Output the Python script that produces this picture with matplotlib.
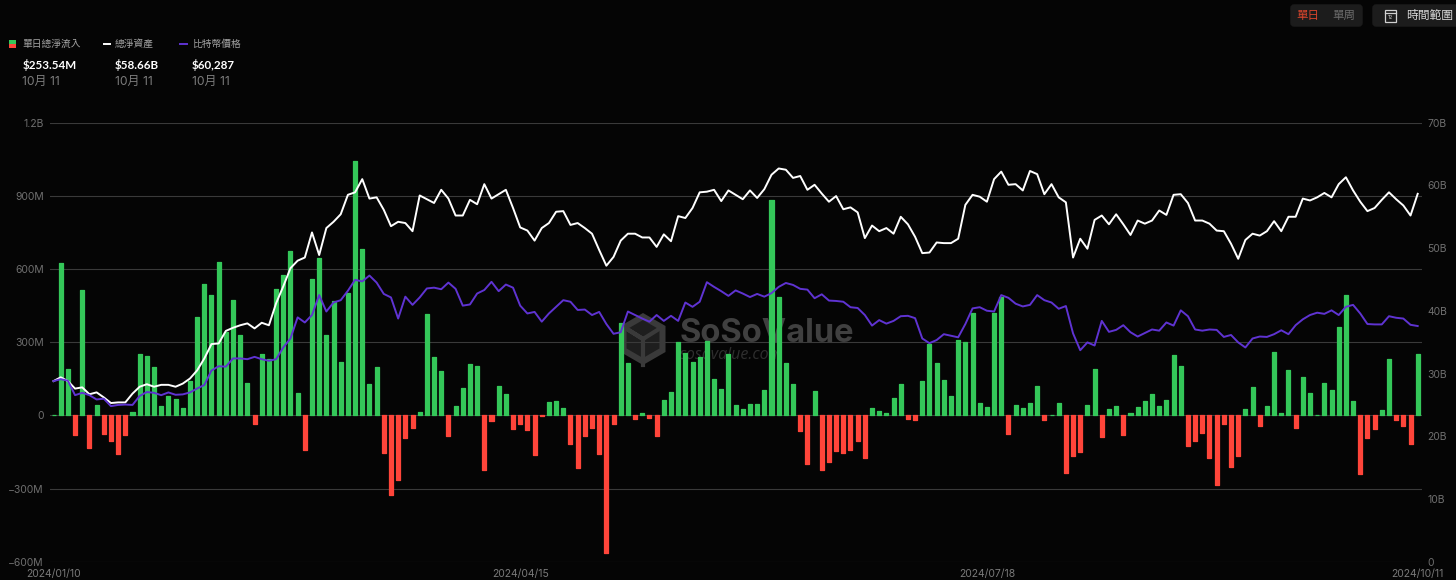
import numpy as np
import matplotlib
matplotlib.use('Agg')
import matplotlib.pyplot as plt
from matplotlib.patches import FancyBboxPatch, RegularPolygon, Rectangle

plt.rcParams['font.family'] = ['Inter', 'Noto Sans CJK TC', 'DejaVu Sans']

# 單日總淨流入 (百萬美元), first day has no flow
net_flow = [0, 625, 189, -81, 514, -134, 41, -77, -105, -159,
            -79, 14, 253, 245, 197, 37, 79, 66, 31, 142,
            402, 539, 492, 629, 340, 475, 330, 134, -36, 250,
            231, 518, 575, 672, 90, -141, 561, 647, 331, 470,
            220, 500, 1044, 681, 130, 197, -153, -327, -263, -94,
            -53, 15, 416, 241, 181, -86, 38, 112, 212, 201,
            -224, -22, 120, 89, -56, -37, -59, -164, -4, 56,
            59, 30, -119, -217, -83, -53, -160, -564, -34, 378,
            215, -16, 10, -12, -85, 64, 97, 301, 256, 220,
            239, 305, 150, 107, 250, 44, 26, 47, 47, 104,
            885, 486, 215, 127, -64, -200, 98, -226, -190, -146,
            -153, -140, -105, -175, 29, 18, 10, 71, 127, -14,
            -20, 141, 293, 215, 145, 78, 308, 300, 421, 52,
            36, 421, 484, -78, 42, 29, 49, 122, -19, 0,
            49, -235, -168, -149, 42, 190, -89, 25, 37, -81,
            10, 34, 59, 86, 37, 64, 249, 201, -126, -105,
            -73, -175, -287, -37, -211, -168, 27, 115, -44, 37,
            260, 11, 185, -53, 156, 90, 3, 133, 104, 363,
            492, 59, -241, -92, -55, 23, 233, -19, -42, -119,
            253.54]

# 總淨資產 (十億美元)
net_assets = [28.8, 29.4, 28.8, 27.6, 27.8, 26.7, 27.0, 26.2, 25.3, 25.4,
              25.4, 26.8, 27.9, 28.3, 27.9, 28.2, 28.2, 27.9, 28.4, 29.2,
              30.5, 32.4, 34.7, 34.8, 36.8, 37.3, 37.7, 38.0, 37.2, 38.1,
              37.7, 41.2, 43.9, 46.8, 48.0, 48.5, 52.5, 48.9, 53.2, 54.2,
              55.4, 58.5, 58.9, 61.0, 57.9, 58.1, 56.1, 53.5, 54.2, 54.0,
              52.7, 58.4, 57.8, 57.2, 59.3, 57.9, 55.2, 55.2, 57.7, 57.0,
              60.2, 57.9, 58.6, 59.3, 56.4, 53.3, 52.8, 51.2, 53.2, 54.0,
              55.8, 55.9, 53.7, 54.0, 53.2, 52.3, 49.7, 47.2, 48.6, 51.2,
              52.3, 52.3, 51.7, 51.7, 50.2, 52.2, 51.1, 55.1, 54.8, 56.4,
              58.9, 59.0, 59.3, 57.5, 59.2, 58.5, 57.8, 59.2, 58.0, 59.4,
              61.7, 62.7, 62.5, 61.2, 61.5, 59.3, 60.1, 58.7, 57.4, 58.3,
              56.2, 56.5, 55.7, 51.6, 53.6, 52.7, 53.2, 52.3, 55.0, 53.8,
              51.8, 49.2, 49.3, 50.9, 50.8, 50.8, 51.5, 56.9, 58.5, 58.2,
              57.4, 61.0, 62.2, 60.1, 60.2, 59.2, 62.3, 61.8, 58.6, 60.2,
              58.1, 57.3, 48.5, 51.5, 49.9, 54.5, 55.2, 53.8, 55.4, 53.8,
              52.1, 54.4, 53.9, 54.4, 56.0, 55.3, 58.5, 58.6, 57.2, 54.4,
              54.4, 53.9, 52.8, 52.7, 50.7, 48.3, 51.3, 52.3, 52.0, 52.7,
              54.3, 52.7, 55.0, 55.0, 57.9, 57.6, 58.1, 58.8, 58.1, 60.2,
              61.3, 59.2, 57.4, 55.9, 56.4, 57.7, 58.9, 57.8, 56.8, 55.2,
              58.66]

# 比特幣價格 (美元)
btc_price = [46200, 46700, 46300, 42600, 43200, 42600, 41500, 41700, 39800, 40100,
             40200, 40100, 42400, 43400, 43200, 42600, 43300, 42700, 42800, 43300,
             44300, 45200, 48900, 50000, 49900, 52000, 52000, 51800, 52400, 51800,
             51400, 51800, 54800, 57100, 62500, 61200, 63100, 68200, 64000, 66300,
             66900, 69300, 72100, 71700, 73200, 71400, 68500, 67600, 62200, 67800,
             65700, 67600, 69900, 70100, 69700, 71400, 69800, 65500, 65800, 68600,
             69500, 71600, 69200, 70900, 70100, 65500, 63500, 63900, 61400, 63500,
             65200, 66900, 66500, 64400, 64500, 63100, 63900, 60800, 58300, 58700,
             64000, 63100, 62200, 61400, 63100, 61600, 62900, 61600, 66300, 65200,
             66500, 71500, 70300, 69200, 68000, 69400, 68600, 67700, 68500, 67800,
             68700, 70300, 71300, 70800, 69800, 69600, 67400, 68400, 66800, 66700,
             66500, 65100, 64900, 63100, 60400, 61800, 60900, 61600, 62800, 62900,
             62300, 57100, 55900, 56700, 58200, 57800, 57400, 60800, 64800, 65100,
             64200, 64000, 68200, 67500, 66000, 65300, 65700, 68200, 66900, 66300,
             64700, 65400, 58400, 54100, 56100, 55300, 61600, 58800, 59300, 60500,
             58700, 57600, 58500, 59400, 59100, 61200, 60400, 64300, 62800, 59400,
             59100, 59400, 59300, 57500, 58000, 56100, 54800, 57100, 57600, 57500,
             58200, 59200, 58200, 60500, 62000, 63100, 63700, 63400, 64300, 63100,
             65200, 65700, 63500, 60800, 60700, 60700, 62800, 62400, 62200, 60600,
             60287]

date_ticks = [0, 65, 130, 190]
date_labels = ['2024/01/10', '2024/04/15', '2024/07/18', '2024/10/11']
flow_ticks = [-600, -300, 0, 300, 600, 900, 1200]
flow_labels = ['−600M', '−300M', '0', '300M', '600M', '900M', '1.2B']
asset_ticks = [0, 10, 20, 30, 40, 50, 60, 70]
asset_labels = ['0', '10B', '20B', '30B', '40B', '50B', '60B', '70B']

BG = '#050505'
GREEN = '#34C759'
RED = '#FF453A'
PURPLE = '#5F33D2'
TICK = '#6f6f6f'

W, H = 1456, 580
fig = plt.figure(figsize=(W / 100, H / 100), dpi=100, facecolor=BG)

# 畫布層: 圖例, 按鈕, 水印都放在這裡 (像素座標)
ui = fig.add_axes([0, 0, 1, 1], zorder=-1)
ui.set_xlim(0, W)
ui.set_ylim(H, 0)
ui.axis('off')

# 圖例
ui.add_patch(Rectangle((9, 40), 7, 4, color=GREEN, lw=0))
ui.add_patch(Rectangle((9, 44), 7, 4, color=RED, lw=0))
ui.plot([103.5, 109.5], [44, 44], color='white', lw=1.4)
ui.plot([180, 187], [44, 44], color=PURPLE, lw=1.4)
for x, name, val in [(22.5, '單日總淨流入', '$253.54M'),
                     (115, '總淨資產', '$58.66B'),
                     (192, '比特幣價格', '$60,287')]:
    ui.text(x, 44, name, color='#a3a3a3', fontsize=7, va='center')
    ui.text(x, 65, val, color='white', fontsize=8.4, fontweight='bold',
            family=['Lato', 'DejaVu Sans'], va='center')
    ui.text(x, 82, '10月 11', color='#7c7c7c', fontsize=8.7, va='center')

# 右上角按鈕
ui.add_patch(FancyBboxPatch((1291, 5), 71, 21, boxstyle='round,pad=0,rounding_size=3',
                            fc='#1c1c1c', ec='#1c1c1c', lw=1))
ui.add_patch(FancyBboxPatch((1373, 5), 92, 21, boxstyle='round,pad=0,rounding_size=3',
                            fc='#1c1c1c', ec='#1c1c1c', lw=1))
ui.text(1308, 16, '單日', color='#d8452c', fontsize=8.3, ha='center', va='center')
ui.text(1344, 16, '單周', color='#6a6a6a', fontsize=8.3, ha='center', va='center')
ui.text(1429.5, 16, '時間範圍', color='#d6d6d6', fontsize=8.5, ha='center', va='center')
ui.add_patch(Rectangle((1385, 10), 10.5, 12, fc='none', ec='#d0d0d0', lw=0.9))
ui.plot([1385, 1395.5], [13, 13], color='#d0d0d0', lw=0.9)
ui.text(1390.2, 17.5, '12', color='#d0d0d0', fontsize=3.8, ha='center', va='center')

# 水印
ui.add_patch(RegularPolygon((643, 339), 6, radius=26, fc='#3a3a3a', ec='none'))
ui.add_patch(RegularPolygon((643, 339), 6, radius=19, fc='#1e1e1e', ec='none'))
ui.plot([643, 643, 627, 643, 659], [365, 339, 329, 339, 329], color='#3a3a3a', lw=3)
ui.text(680, 333, 'SoSoValue', color='#404040', fontsize=23.5, fontweight='bold', va='center')
ui.text(680, 355, 'sosovalue.com', color='#2e2e2e', fontsize=11.5, style='italic',
        family=['Open Sans', 'DejaVu Sans'], va='center')

# 主圖區
ax = fig.add_axes([50 / W, 1 - 561.7 / H, (1422 - 50) / W, (561.7 - 122.7) / H], zorder=1)
ax.patch.set_alpha(0)
x = np.arange(len(net_flow))
colors = [GREEN if v >= 0 else RED for v in net_flow]
ax.bar(x, net_flow, width=0.56, color=colors, edgecolor=colors, linewidth=0.9,
       joinstyle='round', zorder=2)

ax.set_xlim(-0.49, 190.6)
ax.set_ylim(-600, 1200)
ax.set_yticks(flow_ticks)
ax.set_yticklabels(flow_labels)
ax.set_xticks(date_ticks)
ax.set_xticklabels(date_labels)
ax.grid(axis='y', color='#3a3a3a', lw=0.8, zorder=0)
ax.grid(axis='x', visible=False)
ax.tick_params(axis='y', length=0, pad=4.5, labelsize=7.5, labelcolor=TICK)
ax.tick_params(axis='x', length=0, pad=5, labelsize=7.5, labelcolor='#7a7a7a')
for spine in ax.spines.values():
    spine.set_visible(False)

ax2 = ax.twinx()
ax2.plot(x, net_assets, color='white', lw=1.4, solid_joinstyle='round', zorder=3)
ax2.set_ylim(0, 70)
ax2.set_yticks(asset_ticks)
ax2.set_yticklabels(asset_labels)
ax2.tick_params(axis='y', length=0, pad=4, labelsize=7.5, labelcolor=TICK)

# 比特幣價格用隱藏的第三軸
ax3 = ax.twinx()
ax3.plot(x, btc_price, color=PURPLE, lw=1.4, solid_joinstyle='round', zorder=4)
ax3.set_ylim(0, 112300)
ax3.set_yticks([])

for a in (ax2, ax3):
    a.patch.set_alpha(0)
    for spine in a.spines.values():
        spine.set_visible(False)

fig.savefig('out.png', dpi=100, facecolor=BG)
